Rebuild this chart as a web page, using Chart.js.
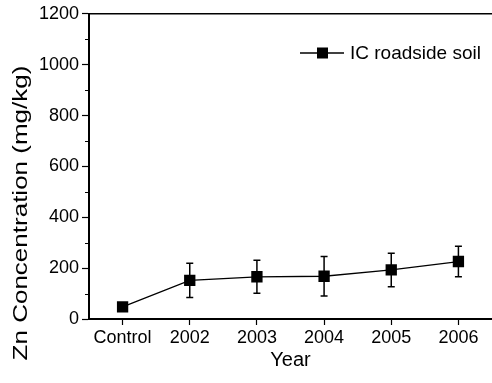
<!DOCTYPE html>
<html>
<head>
<meta charset="utf-8">
<script src="https://cdn.jsdelivr.net/npm/chart.js@4/dist/chart.umd.min.js"></script>
<style>
  html, body { margin: 0; padding: 0; background: #fff; overflow: hidden; }
  #wrap { position: relative; width: 500px; height: 383px; }
</style>
</head>
<body>
<div id="wrap"><canvas id="zn-chart"></canvas></div>
<script>
const years = ['Control', '2002', '2003', '2004', '2005', '2006']
const znMean = [48, 152, 166, 168, 193, 226]
const znErr = [8, 67, 65, 78, 66, 60]
const yTicks = [0, 200, 400, 600, 800, 1000, 1200]
const yMinorTicks = [100, 300, 500, 700, 900, 1100]

const FONT = '"Liberation Sans", Arial, Helvetica, sans-serif'

// vertical error bars with short caps, drawn under the markers
const errorBars = {
  id: 'errorBars',
  beforeDatasetsDraw(chart) {
    const { ctx, scales: { x, y } } = chart
    ctx.save()
    ctx.strokeStyle = '#000'
    ctx.lineWidth = 1.5
    znMean.forEach((v, i) => {
      const px = x.getPixelForValue(i)
      const top = y.getPixelForValue(v + znErr[i])
      const bot = y.getPixelForValue(v - znErr[i])
      ctx.beginPath()
      ctx.moveTo(px, top)
      ctx.lineTo(px, bot)
      ctx.moveTo(px - 3.5, top)
      ctx.lineTo(px + 3.5, top)
      ctx.moveTo(px - 3.5, bot)
      ctx.lineTo(px + 3.5, bot)
      ctx.stroke()
    })
    ctx.restore()
  },
}

// frame top edge, minor ticks, rotated y title and the inset legend
const decorations = {
  id: 'decorations',
  afterDraw(chart) {
    const { ctx, chartArea, scales: { y } } = chart
    ctx.save()
    ctx.strokeStyle = '#000'

    ctx.lineWidth = 1.5
    ctx.beginPath()
    ctx.moveTo(chartArea.left - 1, chartArea.top)
    ctx.lineTo(chartArea.right, chartArea.top)
    ctx.stroke()

    ctx.lineWidth = 1
    yMinorTicks.forEach((v) => {
      const py = Math.round(y.getPixelForValue(v)) + 0.5
      ctx.beginPath()
      ctx.moveTo(chartArea.left - 4, py)
      ctx.lineTo(chartArea.left, py)
      ctx.stroke()
    })

    ctx.fillStyle = '#000'
    ctx.save()
    ctx.translate(21, 213)
    ctx.rotate(-Math.PI / 2)
    ctx.scale(1.3, 1)
    ctx.font = `20px ${FONT}`
    ctx.textAlign = 'center'
    ctx.textBaseline = 'middle'
    ctx.fillText('Zn Concentration (mg/kg)', 0, 0)
    ctx.restore()

    // legend
    const ly = 53
    ctx.lineWidth = 1.5
    ctx.beginPath()
    ctx.moveTo(300, ly)
    ctx.lineTo(344, ly)
    ctx.stroke()
    ctx.fillRect(317, ly - 5.5, 11, 11)
    ctx.font = `19px ${FONT}`
    ctx.textAlign = 'left'
    ctx.textBaseline = 'middle'
    ctx.fillText('IC roadside soil', 350, ly + 1)
    ctx.restore()
  },
}

new Chart(document.getElementById('zn-chart'), {
  type: 'line',
  data: {
    labels: years,
    datasets: [
      {
        label: 'IC roadside soil',
        data: znMean,
        borderColor: '#000',
        borderWidth: 1.3,
        backgroundColor: '#000',
        pointStyle: 'rect',
        pointRadius: 8,
        pointHoverRadius: 8,
        pointBackgroundColor: '#000',
        pointBorderWidth: 0,
        tension: 0,
      },
    ],
  },
  options: {
    responsive: true,
    maintainAspectRatio: false,
    animation: false,
    layout: { padding: { top: 13, right: 5, left: 0, bottom: 0 } },
    plugins: {
      legend: { display: false },
      tooltip: { enabled: false },
    },
    scales: {
      x: {
        offset: true,
        afterFit: (s) => { s.height = 64 },
        border: { display: true, color: '#000', width: 2 },
        grid: {
          drawOnChartArea: false,
          tickLength: 6,
          tickColor: '#000',
          tickWidth: 1.2,
          offset: false,
        },
        ticks: {
          color: '#000',
          padding: 2,
          maxRotation: 0,
          font: { family: FONT, size: 18 },
        },
        title: {
          display: true,
          text: 'Year',
          color: '#000',
          padding: { top: 0, bottom: 11 },
          font: { family: FONT, size: 20 },
        },
      },
      y: {
        min: 0,
        max: 1200,
        afterFit: (s) => { s.width = 89 },
        afterBuildTicks: (s) => { s.ticks = yTicks.map((v) => ({ value: v })) },
        border: { display: true, color: '#000', width: 2 },
        grid: {
          drawOnChartArea: false,
          tickLength: 7,
          tickColor: '#000',
          tickWidth: 1.2,
        },
        ticks: {
          color: '#000',
          padding: 3,
          font: { family: FONT, size: 18 },
          callback: (value) => String(value),
        },
      },
    },
  },
  plugins: [errorBars, decorations],
})
</script>
</body>
</html>
